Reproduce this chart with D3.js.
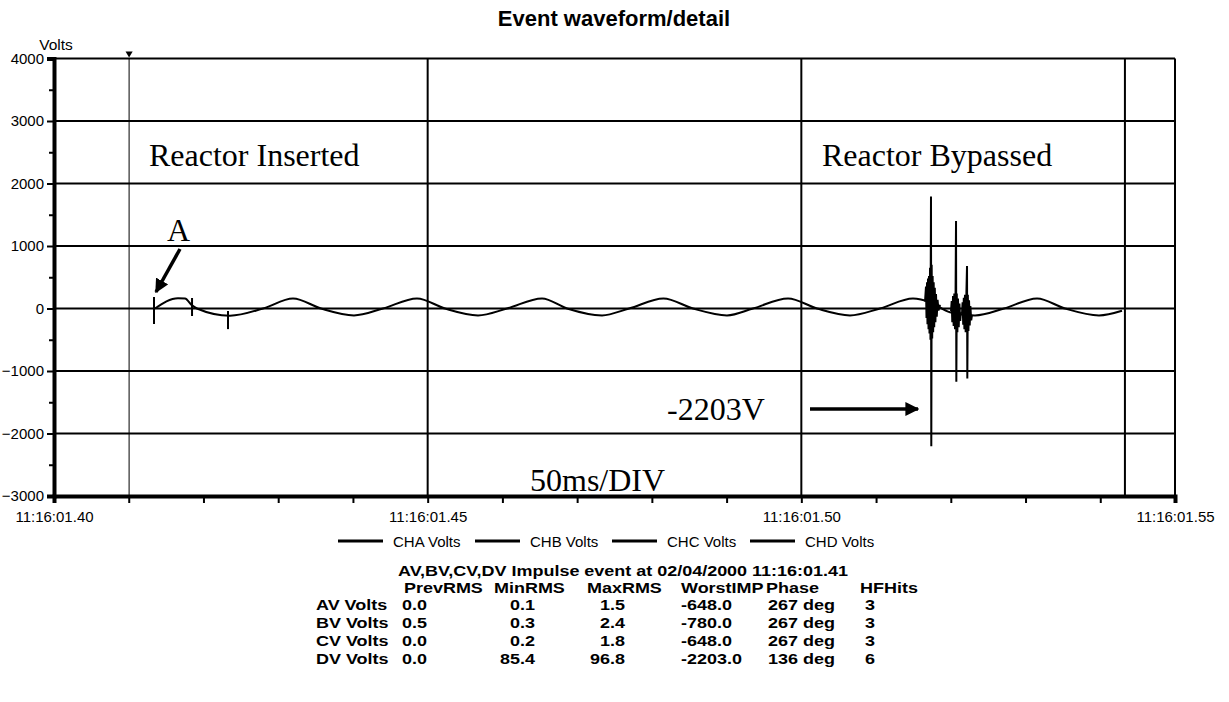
<!DOCTYPE html>
<html><head><meta charset="utf-8">
<script src="https://cdn.jsdelivr.net/npm/d3@7"></script>
<style>
body{margin:0;background:#fff;}
svg{display:block;}
text{font-family:"Liberation Sans",Arial,sans-serif;fill:#000;}
.serif{font-family:"Liberation Serif","Times New Roman",serif;}
</style></head><body>
<svg id="c" width="1229" height="702"></svg>
<script>
// ---- data (time = ms after 11:16:01.40, volts) ----
const xTickLabels = ["11:16:01.40","11:16:01.45","11:16:01.50","11:16:01.55"];
const xTickValues = [0,50,100,150];
const yTicks = [-3000,-2000,-1000,0,1000,2000,3000,4000];
const triggerMs = 10.05;
const dataEndMs = 143.3;
// fundamental waveform key points
const waveT = [13.51,16.59,17.53,18.47,19.13,23.55,27.97,31.98,35.73,40.14,44.02,48.57,52.32,56.74,60.62,65.30,68.65,73.33,76.96,81.55,85.50,90.05,93.53,98.22,102.10,106.51,110.53,114.94,117.35,119.89,123.24,127.12,131.54,135.28,139.83,142.91];
const waveV = [0,165,160,50,0,-115,0,160,0,-110,0,160,0,-110,0,160,0,-110,0,160,0,-110,0,160,0,-110,0,160,95,-60,-110,0,160,0,-110,-35];
// impulses near "A"
const impT  = [13.38,18.47,23.28];
const impHi = [184,168,-40];
const impLo = [-248,-120,-330];
// bypass transients
const burst1T = [116.55,116.68,116.75,116.82,116.88,116.95,117.02,117.08,117.15,117.22,117.28,117.35,117.39,117.44,117.51,117.57,117.64,117.71,117.78,117.86,117.94,118.02,118.12,118.23,118.35,118.55];
const burst1V = [110,350,-150,420,-250,480,-330,520,-400,650,-500,1790,-2203,700,-480,520,-380,420,-300,330,-220,230,-130,140,-30,60];
const burst2T = [120.03,120.12,120.20,120.30,120.38,120.47,120.56,120.64,120.70,120.74,120.80,120.88,120.96,121.06,121.15,121.26,121.36];
const burst2V = [-40,120,-220,200,-280,240,-330,300,1400,-1170,240,-380,160,-300,80,-200,-60];
const burst3T = [121.50,121.58,121.66,121.74,121.82,121.90,121.99,122.09,122.17,122.21,122.28,122.36,122.44,122.53,122.62,122.73,122.84];
const burst3V = [-80,100,-260,170,-330,220,-380,260,680,-1120,220,-360,130,-270,40,-190,-100];
const legendItems = ["CHA Volts","CHB Volts","CHC Volts","CHD Volts"];
const tableTitle = "AV,BV,CV,DV Impulse event at 02/04/2000 11:16:01.41";
const tableHeader = ["PrevRMS","MinRMS","MaxRMS","WorstIMP","Phase","HFHits"];
const rowLabels = ["AV Volts","BV Volts","CV Volts","DV Volts"];
const prevRMS = ["0.0","0.5","0.0","0.0"];
const minRMS = ["0.1","0.3","0.2","85.4"];
const maxRMS = ["1.5","2.4","1.8","96.8"];
const worstIMP = ["-648.0","-780.0","-648.0","-2203.0"];
const phase = ["267 deg","267 deg","267 deg","136 deg"];
const hfHits = ["3","3","3","6"];

const svg = d3.select("#c");
const x = d3.scaleLinear().domain([0,150]).range([54,1175]);
const y = d3.scaleLinear().domain([-3000,4000]).range([496,58.5]);

svg.append("text").attr("x",614).attr("y",26).attr("text-anchor","middle")
  .attr("font-size",22).attr("font-weight","bold").text("Event waveform/detail");

// grid
const g = svg.append("g");
g.selectAll(".hg").data(yTicks.filter(d=>d>-3000)).join("line")
  .attr("x1",x(0)).attr("x2",x(150)).attr("y1",d=>y(d)).attr("y2",d=>y(d))
  .attr("stroke","#000").attr("stroke-width",2);
g.selectAll(".vg").data([50,100,dataEndMs,150]).join("line")
  .attr("x1",d=>x(d)).attr("x2",d=>x(d)).attr("y1",y(4000)).attr("y2",y(-3000))
  .attr("stroke","#000").attr("stroke-width",2);
g.append("line").attr("x1",x(triggerMs)).attr("x2",x(triggerMs)).attr("y1",y(4000)).attr("y2",y(-3000))
  .attr("stroke","#000").attr("stroke-width",1);
g.append("path").attr("d",d3.symbol(d3.symbolTriangle,22)())
  .attr("transform",`translate(${x(triggerMs)},${y(4000)-5}) rotate(180)`).attr("fill","#000");

// axes
const yAxis = d3.axisLeft(y).tickValues(yTicks).tickSize(7).tickFormat(d3.format("d"));
const ya = svg.append("g").attr("transform",`translate(${x(0)},0)`).call(yAxis);
ya.select(".domain").attr("stroke-width",4);
ya.selectAll(".tick line").attr("stroke-width",2);
ya.selectAll(".tick text").attr("font-size",15).attr("font-family","Liberation Sans, Arial").attr("x",-10).attr("fill","#000");
const yMinor = d3.axisLeft(y).tickValues(d3.range(-2500,4000,1000)).tickSize(5).tickFormat("");
const ym = svg.append("g").attr("transform",`translate(${x(0)},0)`).call(yMinor);
ym.select(".domain").remove(); ym.selectAll(".tick line").attr("stroke-width",2);

const xAxis = d3.axisBottom(x).tickValues(d3.range(0,151,10)).tickSize(7)
  .tickFormat(d=>{const i=xTickValues.indexOf(d);return i>=0?xTickLabels[i]:"";});
const xa = svg.append("g").attr("transform",`translate(0,${y(-3000)})`).call(xAxis);
xa.select(".domain").attr("stroke-width",4);
xa.selectAll(".tick line").attr("stroke-width",2);
xa.selectAll(".tick text").attr("font-size",15).attr("font-family","Liberation Sans, Arial").attr("y",15).attr("fill","#000");
svg.append("text").attr("x",56).attr("y",50).attr("text-anchor","middle").attr("font-size",15.5).text("Volts");

// waveform
const line = d3.line().x(d=>x(d[0])).y(d=>y(d[1]));
svg.append("path").datum(d3.zip(waveT,waveV)).attr("fill","none").attr("stroke","#000")
  .attr("stroke-width",2).attr("d",line.curve(d3.curveMonotoneX));
const lin = d3.line().x(d=>x(d[0])).y(d=>y(d[1]));
svg.selectAll(".imp").data(d3.range(impT.length)).join("line")
  .attr("x1",i=>x(impT[i])).attr("x2",i=>x(impT[i])).attr("y1",i=>y(impHi[i])).attr("y2",i=>y(impLo[i]))
  .attr("stroke","#000").attr("stroke-width",2);
[[burst1T,burst1V],[burst2T,burst2V],[burst3T,burst3V]].forEach(([t,v])=>{
  svg.append("path").datum(d3.zip(t,v)).attr("fill","none").attr("stroke","#000")
    .attr("stroke-width",2).attr("d",lin);
});

// annotations
const defs = svg.append("defs");
defs.append("marker").attr("id","ah").attr("viewBox","0 0 10 10").attr("refX",9).attr("refY",5)
  .attr("markerWidth",4).attr("markerHeight",4).attr("orient","auto")
  .append("path").attr("d","M0,0L10,5L0,10z").attr("fill","#000");
svg.append("text").attr("class","serif").attr("x",149).attr("y",166).attr("font-size",32).text("Reactor Inserted");
svg.append("text").attr("class","serif").attr("x",822).attr("y",166).attr("font-size",32).text("Reactor Bypassed");
svg.append("text").attr("class","serif").attr("x",167).attr("y",241).attr("font-size",32).text("A");
svg.append("text").attr("class","serif").attr("x",667).attr("y",420).attr("font-size",32).text("-2203V");
svg.append("text").attr("class","serif").attr("x",530).attr("y",491).attr("font-size",32).text("50ms/DIV");
svg.append("line").attr("x1",180).attr("y1",249).attr("x2",156).attr("y2",292)
  .attr("stroke","#000").attr("stroke-width",3.5).attr("marker-end","url(#ah)");
svg.append("line").attr("x1",810).attr("y1",409).attr("x2",918).attr("y2",409)
  .attr("stroke","#000").attr("stroke-width",3.5).attr("marker-end","url(#ah)");

// legend
const lx = [338,475,612,750];
legendItems.forEach((s,i)=>{
  svg.append("line").attr("x1",lx[i]).attr("x2",lx[i]+45).attr("y1",541).attr("y2",541).attr("stroke","#000").attr("stroke-width",3);
  svg.append("text").attr("x",lx[i]+55).attr("y",546.5).attr("font-size",15).text(s);
});

// table (slightly wide bold face, as in the reference)
const tb = svg.append("g").attr("font-weight","bold").attr("font-size",15.5);
const put = (tx,ty,s,anchor) => tb.append("text")
  .attr("transform",`translate(${tx},${ty}) scale(1.16,1)`)
  .attr("text-anchor",anchor||"start").text(s);
put(623,576,tableTitle,"middle");
const hx = [404,494,587,681,766,860];
tableHeader.forEach((h,i)=>put(hx[i],593,h));
const cols = [
  {vals:prevRMS,x:427,a:"end"},{vals:minRMS,x:535,a:"end"},{vals:maxRMS,x:625,a:"end"},
  {vals:worstIMP,x:681,a:"start"},{vals:phase,x:768,a:"start"},{vals:hfHits,x:865,a:"start"}];
rowLabels.forEach((r,j)=>{
  const yy = 610+j*18;
  put(316,yy,r);
  cols.forEach(c=>put(c.x,yy,c.vals[j],c.a));
});
</script></body></html>
